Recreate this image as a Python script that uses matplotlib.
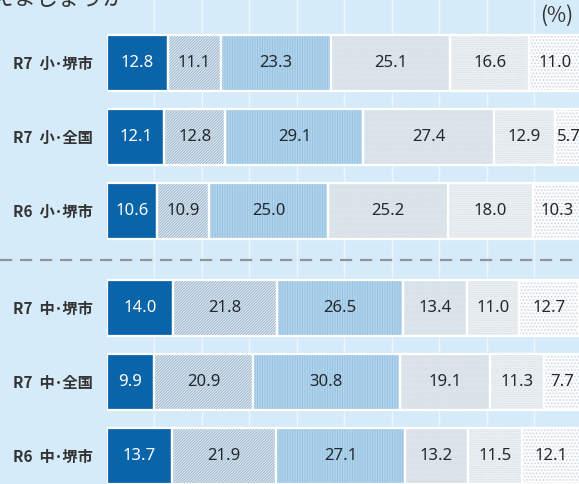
import matplotlib.pyplot as plt

plt.rcParams['font.family'] = ['Noto Sans CJK JP', 'DejaVu Sans']
plt.rcParams['hatch.linewidth'] = 0.8

# rows, top to bottom
rows = ["R7  小･堺市", "R7  小･全国", "R6  小･堺市",
        "R7  中･堺市", "R7  中･全国", "R6  中･堺市"]

# answer shares (%) for each band, left to right
band1 = [12.8, 12.1, 10.6, 14.0, 9.9, 13.7]
band2 = [11.1, 12.8, 10.9, 21.8, 20.9, 21.9]
band3 = [23.3, 29.1, 25.0, 26.5, 30.8, 27.1]
band4 = [25.1, 27.4, 25.2, 13.4, 19.1, 13.2]
band5 = [16.6, 12.9, 18.0, 11.0, 11.3, 11.5]
band6 = [11.0, 5.7, 10.3, 12.7, 7.7, 12.1]
bands = [band1, band2, band3, band4, band5, band6]

# fill / hatch styles per band
styles = [
    dict(face='#0a64a9', hatch=None, hcol='#0a64a9', txt='white'),
    dict(face='#eef4f9', hatch='/' * 12, hcol='#9db8cd', txt='#23282e'),
    dict(face='#c6e0f3', hatch='|' * 10, hcol='#98c3e2', txt='#23282e'),
    dict(face='#f0f4f7', hatch='.' * 14, hcol='#cfdae3', txt='#23282e'),
    dict(face='#f8fafb', hatch='.' * 9, hcol='#cdd7df', txt='#23282e'),
    dict(face='#fcfdfe', hatch='.' * 5, hcol='#cfd8e0', txt='#23282e'),
]

bg = '#d6ebf9'
ypos = [0, 1, 2, 3.31, 4.31, 5.31]

fig = plt.figure(figsize=(5.79, 4.84), dpi=100, facecolor=bg)
ax = fig.add_axes([107 / 579, 0, 472 / 579, 1])
ax.set_facecolor(bg)

for x in range(10, 100, 10):
    ax.axvline(x, color='white', lw=1, alpha=0.55, zorder=0)

left = [0] * len(rows)
for vals, st in zip(bands, styles):
    ax.barh(ypos, vals, left=left, height=0.75, color=st['face'],
            hatch=st['hatch'], edgecolor=st['hcol'], linewidth=0, zorder=2)
    ax.barh(ypos, vals, left=left, height=0.75, color='none',
            edgecolor='white', linewidth=1.6, zorder=3)
    for y, l, v in zip(ypos, left, vals):
        ax.text(l + v / 2, y, f"{v:.1f}", ha='center', va='center',
                fontsize=12, family='Noto Sans', color=st['txt'],
                zorder=4, clip_on=False)
    left = [l + v for l, v in zip(left, vals)]

ax.set_xlim(0, 99.37)
ax.set_ylim(5.69, -0.85)
ax.set_yticks(ypos, rows, fontsize=11, fontweight='bold', color='#333333')
ax.tick_params(axis='y', length=0, pad=10)
ax.set_xticks([])
for s in ax.spines.values():
    s.set_visible(False)

# separator between the two school levels
ax.axhline(2.66, xmin=-107 / 472, xmax=1, color='#8f949a', lw=1.6,
           ls=(0, (5.5, 3.5)), clip_on=False, zorder=1)

fig.text(573 / 579, 1 - 16 / 484, "(%)", ha='right', va='center',
         fontsize=15, color='#333333')
fig.text(125 / 579, 1 - 5 / 484, "考えましょうか", ha='right',
         va='baseline', fontsize=16, color='#333333')

fig.savefig('out.png', dpi=100, facecolor=bg)
